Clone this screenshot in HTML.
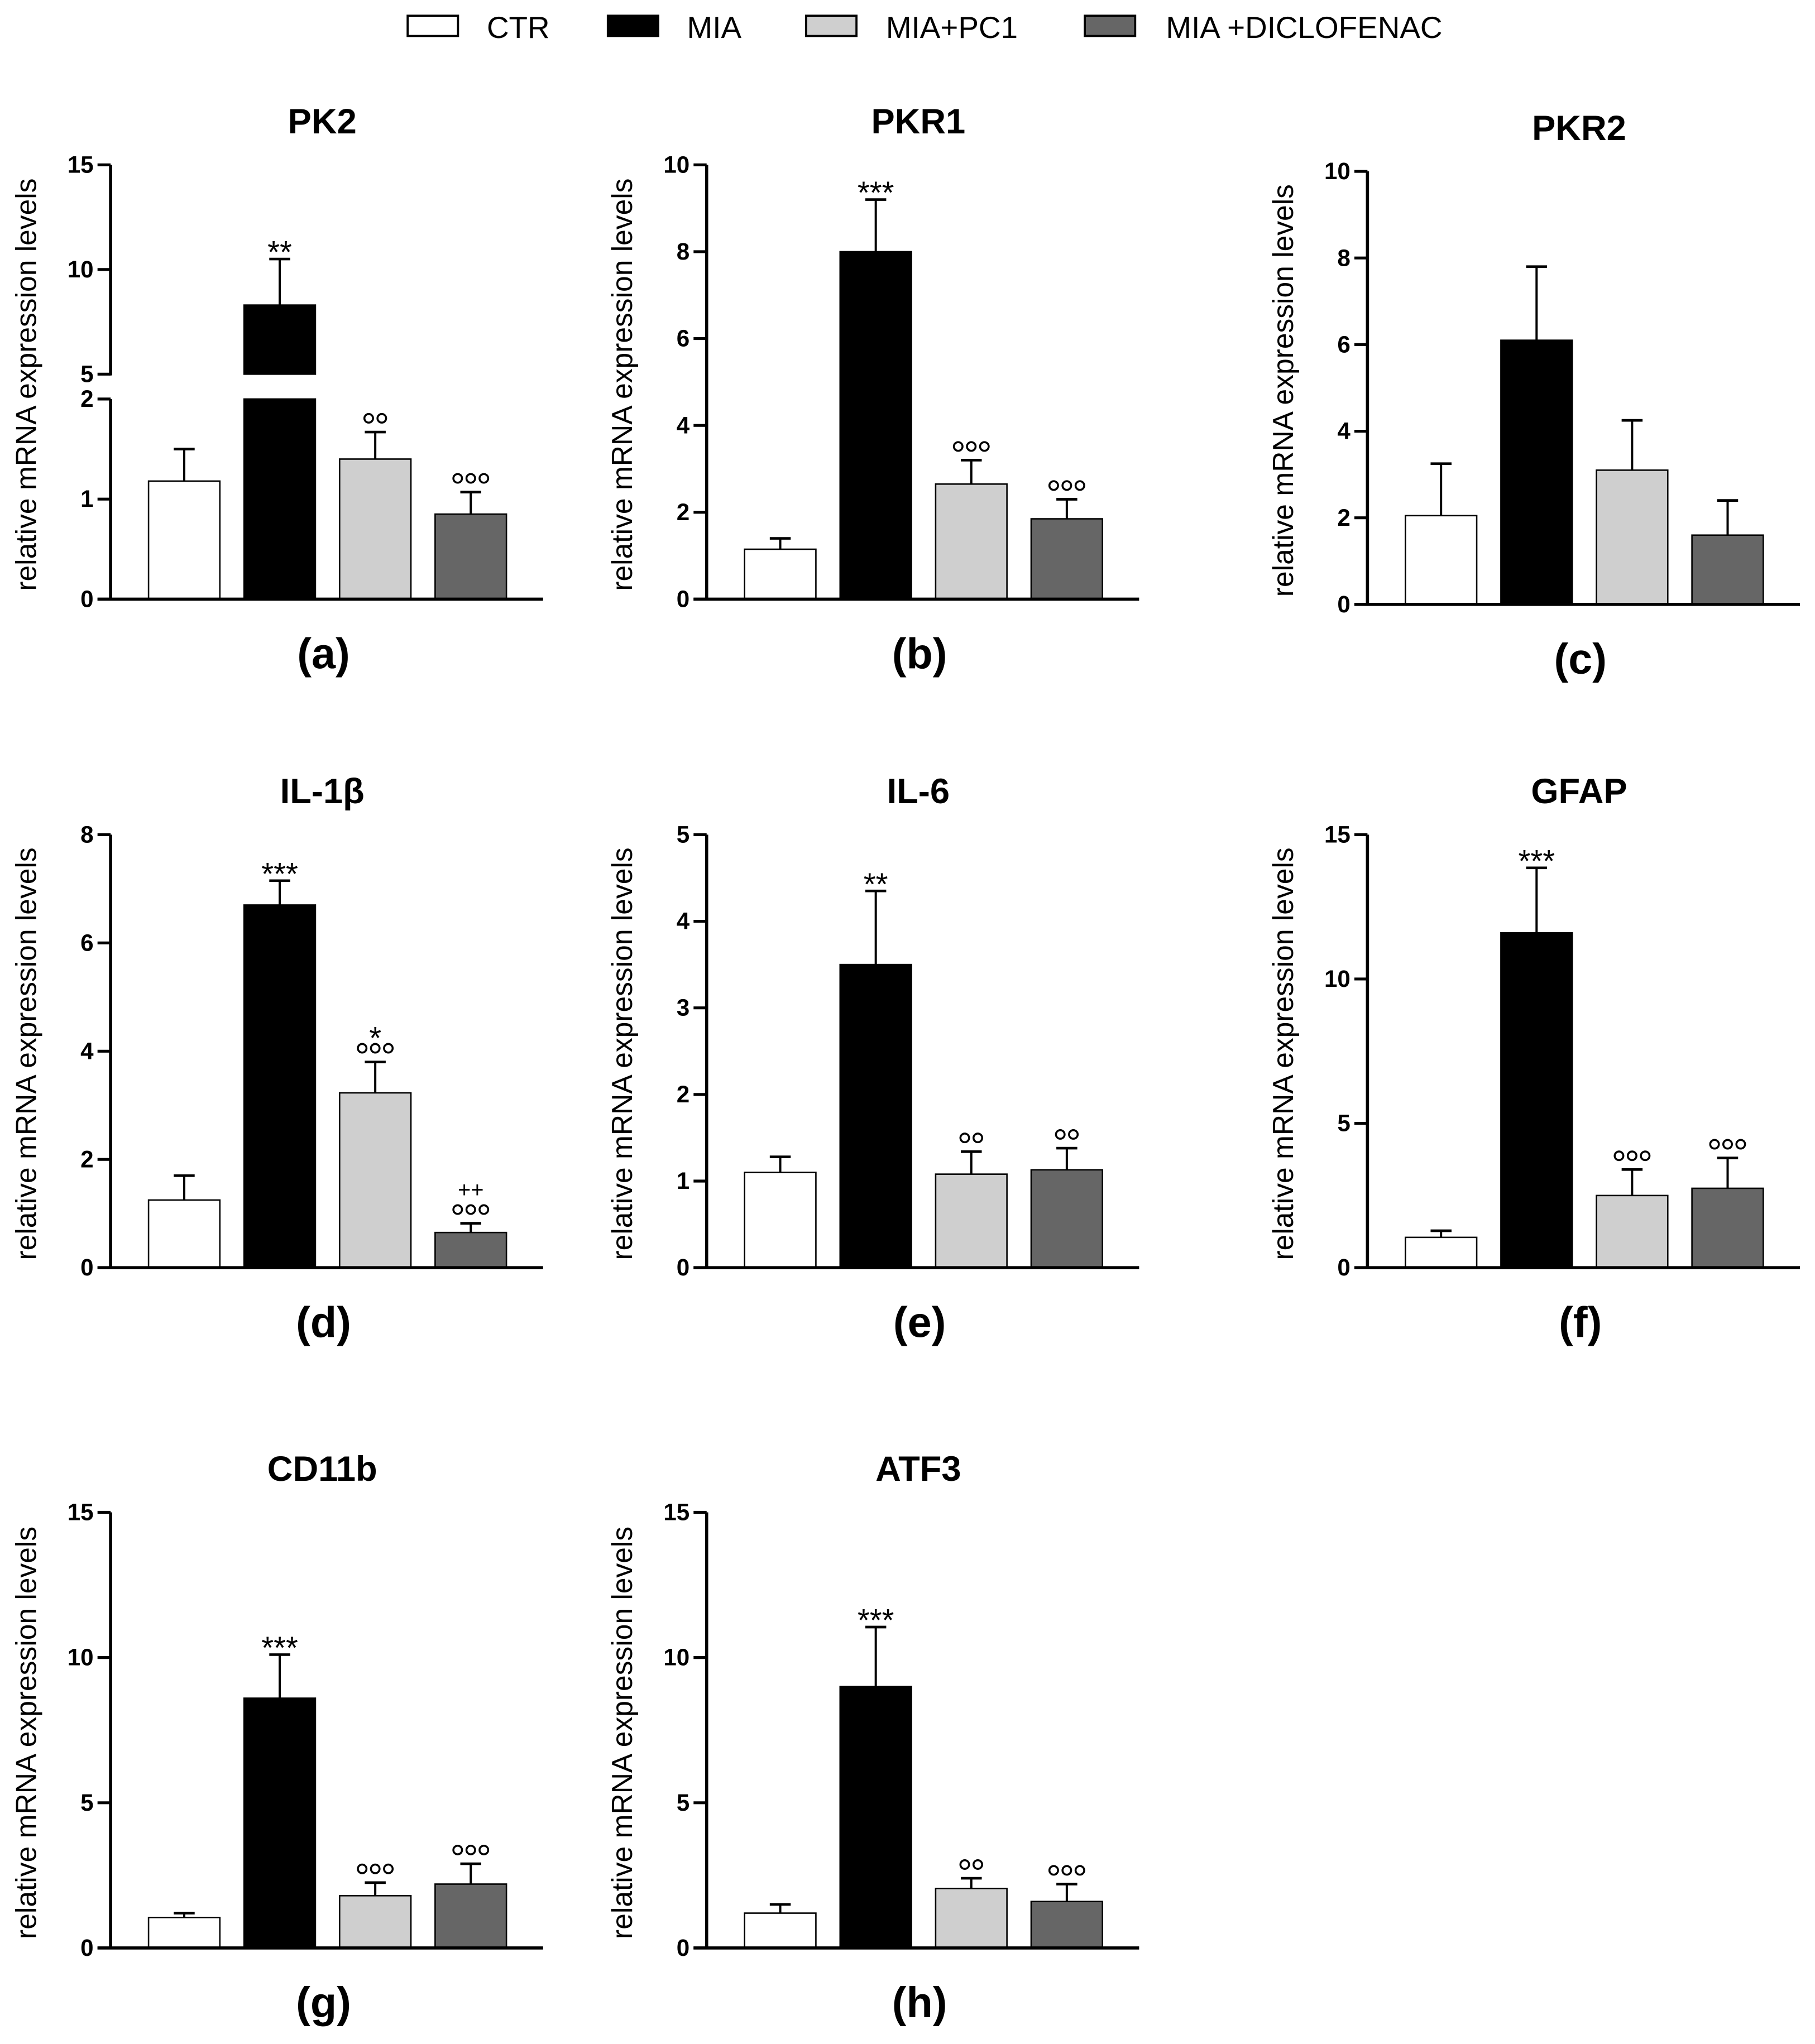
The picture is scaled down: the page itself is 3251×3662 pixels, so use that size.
<!DOCTYPE html>
<html><head><meta charset="utf-8"><style>
html,body{margin:0;padding:0;background:#fff;}
svg{display:block;}
text{font-family:"Liberation Sans",Arial,sans-serif;}
</style></head><body>
<svg id="fig" xmlns="http://www.w3.org/2000/svg" width="3251" height="3662" viewBox="0 0 1387 1562.4">
<rect width="1387" height="1562.4" fill="#fff"/>
<g id="legend">
 <g><rect x="311.5" y="12" width="38.5" height="15.5" fill="#fff" stroke="#000" stroke-width="1.6"/><text x="372" y="29" font-size="23.4">CTR</text></g>
 <g><rect x="464.5" y="12" width="38.5" height="15.5" fill="#000" stroke="#000" stroke-width="1.6"/><text x="525" y="29" font-size="23.4">MIA</text></g>
 <g><rect x="616" y="12" width="38.5" height="15.5" fill="#cfcfcf" stroke="#000" stroke-width="1.6"/><text x="677" y="29" font-size="23.4">MIA+PC1</text></g>
 <g><rect x="829" y="12" width="38.5" height="15.5" fill="#666" stroke="#000" stroke-width="1.6"/><text x="891" y="29" font-size="23.4">MIA +DICLOFENAC</text></g>
</g>
</svg>
<script>
// ---- data ----
const groups = ["CTR","MIA","MIA+PC1","MIA+DICLOFENAC"];
const pk2Values = [1.18, 8.3, 1.4, 0.85];
const pk2Errors = [1.5, 10.5, 1.67, 1.07];
const pk2Marks = ["", "**", "°°", "°°°"];
const pkr1Values = [1.15, 8.0, 2.65, 1.85];
const pkr1Errors = [1.4, 9.2, 3.2, 2.3];
const pkr1Marks = ["", "***", "°°°", "°°°"];
const pkr2Values = [2.05, 6.1, 3.1, 1.6];
const pkr2Errors = [3.25, 7.8, 4.25, 2.4];
const pkr2Marks = ["", "", "", ""];
const il1bValues = [1.25, 6.7, 3.23, 0.65];
const il1bErrors = [1.7, 7.15, 3.8, 0.82];
const il1bMarks = ["", "***", "*|°°°", "++|°°°"];
const il6Values = [1.1, 3.5, 1.08, 1.13];
const il6Errors = [1.28, 4.35, 1.34, 1.38];
const il6Marks = ["", "**", "°°", "°°"];
const gfapValues = [1.05, 11.6, 2.5, 2.75];
const gfapErrors = [1.28, 13.85, 3.4, 3.8];
const gfapMarks = ["", "***", "°°°", "°°°"];
const cd11bValues = [1.05, 8.6, 1.8, 2.2];
const cd11bErrors = [1.2, 10.1, 2.25, 2.9];
const cd11bMarks = ["", "***", "°°°", "°°°"];
const atf3Values = [1.2, 9.0, 2.05, 1.6];
const atf3Errors = [1.5, 11.05, 2.4, 2.2];
const atf3Marks = ["", "***", "°°", "°°°"];
const ticks10by2 = [0,2,4,6,8,10];
const ticks8 = [0,2,4,6,8];
const ticks5 = [0,1,2,3,4,5];
const ticks15 = [0,5,10,15];

// ---- layout (not data) ----
const fills = ["#ffffff","#000000","#cfcfcf","#666666"];
const panels = [
 {id:"pk2", title:"PK2", label:"(a)", ax:84.5, top:126, zero:458, max:15, ticks:null, v:pk2Values, e:pk2Errors, m:pk2Marks, broken:true},
 {id:"pkr1", title:"PKR1", label:"(b)", ax:540, top:126, zero:458, max:10, ticks:ticks10by2, v:pkr1Values, e:pkr1Errors, m:pkr1Marks},
 {id:"pkr2", title:"PKR2", label:"(c)", ax:1045, top:131, zero:462, max:10, ticks:ticks10by2, v:pkr2Values, e:pkr2Errors, m:pkr2Marks},
 {id:"il1b", title:"IL-1β", label:"(d)", ax:84.5, top:638, zero:969, max:8, ticks:ticks8, v:il1bValues, e:il1bErrors, m:il1bMarks},
 {id:"il6", title:"IL-6", label:"(e)", ax:540, top:638, zero:969, max:5, ticks:ticks5, v:il6Values, e:il6Errors, m:il6Marks},
 {id:"gfap", title:"GFAP", label:"(f)", ax:1045, top:638, zero:969, max:15, ticks:ticks15, v:gfapValues, e:gfapErrors, m:gfapMarks},
 {id:"cd11b", title:"CD11b", label:"(g)", ax:84.5, top:1156, zero:1489, max:15, ticks:ticks15, v:cd11bValues, e:cd11bErrors, m:cd11bMarks},
 {id:"atf3", title:"ATF3", label:"(h)", ax:540, top:1156, zero:1489, max:15, ticks:ticks15, v:atf3Values, e:atf3Errors, m:atf3Marks}
];
const NS="http://www.w3.org/2000/svg";
const svg=document.getElementById('fig');
function mk(tag, attrs, parent){const el=document.createElementNS(NS,tag);for(const k in attrs)el.setAttribute(k,attrs[k]);parent.appendChild(el);return el;}

panels.forEach(p=>{
 const g=mk('g',{},svg);
 
 
 let yScale;
 if(p.broken){
  yScale=v=> v<=2 ? p.zero-(v/2)*(p.zero-305) : 286-((v-5)/10)*(286-p.top);
 } else {
  yScale=v=> p.zero-(v/p.max)*(p.zero-p.top);
 }
 const bx=i=>p.ax+29+i*73;
 const bw=54.5;
 const cx=bx(1.5)+bw/2;
 const t=mk('text',{x:cx-4,y:p.top-24,'font-size':27,'font-weight':'bold','text-anchor':'middle'},g);
 t.textContent=p.title;
 
 
 const lb=mk('text',{x:cx-3,y:p.zero+53,'font-size':33,'font-weight':'bold','text-anchor':'middle'},g);
 lb.textContent=p.label;
 
 
 const yl=mk('text',{x:0,y:0,'font-size':22,'text-anchor':'middle',transform:`translate(${p.ax-57},${(p.top+p.zero)/2+2}) rotate(-90)`},g);
 yl.textContent='relative mRNA expression levels';
 
 
 p.v.forEach((val,i)=>{
  const x=bx(i);
  const ytop=yScale(val);
  const ye=yScale(p.e[i]);
  const er=mk('line',{x1:x+bw/2,x2:x+bw/2,y1:ye,y2:ytop,stroke:'#000','stroke-width':1.7},g);
  
  
  const cap=mk('line',{x1:x+bw/2-8,x2:x+bw/2+8,y1:ye,y2:ye,stroke:'#000','stroke-width':2},g);
  
  
  if(p.broken && val>2){
   const r1=mk('rect',{x:x,y:yScale(2),width:bw,height:p.zero-yScale(2),fill:fills[i],stroke:'#000','stroke-width':1.1},g);
   
   
   const r2=mk('rect',{x:x,y:ytop,width:bw,height:yScale(5)-ytop,fill:fills[i],stroke:'#000','stroke-width':1.1},g);
   
   
  } else {
   const r=mk('rect',{x:x,y:ytop,width:bw,height:p.zero-ytop,fill:fills[i],stroke:'#000','stroke-width':1.1},g);
   
   
  }
  const parts=p.m[i]?p.m[i].split('|').reverse():[];
  let yy=ye-7;
  parts.forEach(s=>{
   if(s.indexOf('°')>=0){
    const n=s.length, c=x+bw/2;
    for(let k=0;k<n;k++){
     const ci=mk('circle',{cx:c+(k-(n-1)/2)*10,cy:yy-3.5,r:3.3,fill:'none',stroke:'#000','stroke-width':1.5},g);
     
     
    }
    yy-=13;
   } else {
    const st=mk('text',{x:x+bw/2,y:yy+(s[0]=='*'?10:0),'font-size':s[0]=='*'?24:17,'text-anchor':'middle'},g);
    st.textContent=s;
    
    
    yy-=14;
   }
  });
 });
 const right=bx(3)+bw+28;
 const xa=mk('line',{x1:p.ax-10,x2:right,y1:p.zero,y2:p.zero,stroke:'#000','stroke-width':2.4},g);
 
 
 let tickVals, segs;
 if(p.broken){
  tickVals=[0,1,2,5,10,15];
  segs=[[p.zero,305],[286,p.top]];
 } else { tickVals=p.ticks; segs=[[p.zero,p.top]]; }
 segs.forEach(s=>{
  const ya=mk('line',{x1:p.ax,x2:p.ax,y1:s[0]+1,y2:s[1],stroke:'#000','stroke-width':2.4},g);
  
  
 });
 tickVals.forEach(tv=>{
  const y=yScale(tv);
  const tk=mk('line',{x1:p.ax-10,x2:p.ax,y1:y,y2:y,stroke:'#000','stroke-width':2.2},g);
  
  
  const tl=mk('text',{x:p.ax-13,y:y+6,'font-size':18,'font-weight':'bold','text-anchor':'end'},g);
  tl.textContent=String(tv);
  
  
 });
});
</script>
</body></html>
